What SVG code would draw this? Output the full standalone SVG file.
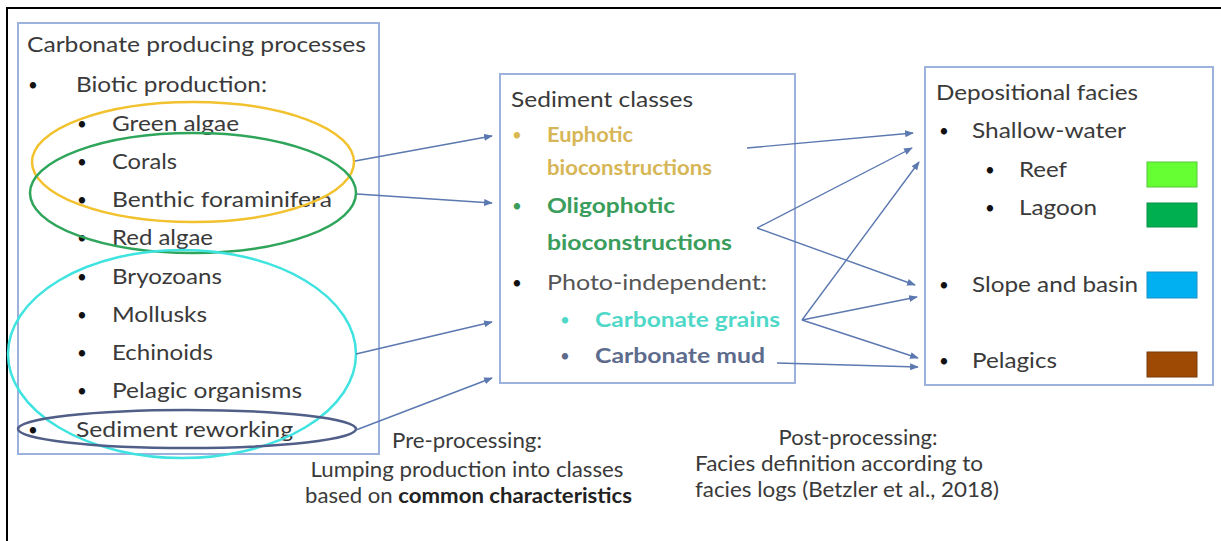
<svg xmlns="http://www.w3.org/2000/svg" width="1221" height="541" viewBox="0 0 1221 541">
<defs>
<marker id="ah" viewBox="0 0 10 8" refX="9" refY="4" markerWidth="9" markerHeight="7" markerUnits="userSpaceOnUse" orient="auto">
<path d="M0,0 L10,4 L0,8 Z" fill="#5B78B0"/>
</marker>
<style>
text{font-family:Lato,"Liberation Sans",sans-serif;font-size:21px;fill:#3A3A3A}
.b{font-weight:bold}
.u{font-size:17px;fill:#111111}
.box{fill:#ffffff;stroke:#9CB2DC;stroke-width:2}
.con{stroke:#5B78B0;stroke-width:1.4;fill:none}
.arr{marker-end:url(#ah)}
.ell{fill:none;stroke-width:2.5}
.sw{stroke-width:1}
</style>
</defs>
<rect x="0" y="0" width="1221" height="541" fill="#ffffff"/>
<path d="M7,541 L7,8 L1221,8" fill="none" stroke="#000" stroke-width="2"/>

<g id="node-processes">
<rect class="box" x="18" y="23" width="361" height="431"/>
<text x="27" y="52" textLength="339" lengthAdjust="spacingAndGlyphs">Carbonate producing processes</text>
<text class="u" x="28" y="91">•</text><text x="76" y="92" textLength="191" lengthAdjust="spacingAndGlyphs">Biotic production:</text>
<text class="u" x="77" y="130">•</text><text x="112" y="131" textLength="127" lengthAdjust="spacingAndGlyphs">Green algae</text>
<text class="u" x="77" y="168">•</text><text x="112" y="169" textLength="65" lengthAdjust="spacingAndGlyphs">Corals</text>
<text class="u" x="77" y="206">•</text><text x="112" y="207" textLength="220" lengthAdjust="spacingAndGlyphs">Benthic foraminifera</text>
<text class="u" x="77" y="244">•</text><text x="112" y="245" textLength="101" lengthAdjust="spacingAndGlyphs">Red algae</text>
<text class="u" x="77" y="283">•</text><text x="112" y="284" textLength="110" lengthAdjust="spacingAndGlyphs">Bryozoans</text>
<text class="u" x="77" y="321">•</text><text x="112" y="322" textLength="95" lengthAdjust="spacingAndGlyphs">Mollusks</text>
<text class="u" x="77" y="359">•</text><text x="112" y="360" textLength="101" lengthAdjust="spacingAndGlyphs">Echinoids</text>
<text class="u" x="77" y="397">•</text><text x="112" y="398" textLength="190" lengthAdjust="spacingAndGlyphs">Pelagic organisms</text>
<text class="u" x="28" y="436">•</text><text x="76" y="437" textLength="217" lengthAdjust="spacingAndGlyphs">Sediment reworking</text>
<ellipse class="ell" cx="193" cy="162" rx="161" ry="60" stroke="#F2C12E"/>
<ellipse class="ell" cx="193" cy="193" rx="163" ry="60" stroke="#2EA55A"/>
<ellipse class="ell" cx="182" cy="354" rx="174" ry="104" stroke="#3FE3E0"/>
<ellipse class="ell" cx="187" cy="429" rx="169" ry="19" stroke="#505E88"/>
</g>

<g id="node-classes">
<rect class="box" x="500" y="74" width="295" height="309"/>
<text x="511" y="107" textLength="182" lengthAdjust="spacingAndGlyphs">Sediment classes</text>
<text class="u" x="512" y="141" style="fill:#D9B84F">•</text>
<text class="b" x="547" y="142" textLength="86" lengthAdjust="spacingAndGlyphs" style="fill:#D6B656">Euphotic</text>
<text class="b" x="547" y="175" textLength="165" lengthAdjust="spacingAndGlyphs" style="fill:#D6B656">bioconstructions</text>
<text class="u" x="512" y="212" style="fill:#3A9D5C">•</text>
<text class="b" x="547" y="213" textLength="128" lengthAdjust="spacingAndGlyphs" style="fill:#3A9D5C">Oligophotic</text>
<text class="b" x="547" y="250" textLength="185" lengthAdjust="spacingAndGlyphs" style="fill:#3A9D5C">bioconstructions</text>
<text class="u" x="512" y="289">•</text>
<text x="547" y="290" textLength="220" lengthAdjust="spacingAndGlyphs" style="fill:#555555">Photo-independent:</text>
<text class="u" x="560" y="326" style="fill:#4FD8C8">•</text>
<text class="b" x="595" y="327" textLength="185" lengthAdjust="spacingAndGlyphs" style="fill:#4FD8C8">Carbonate grains</text>
<text class="u" x="560" y="362" style="fill:#5D6C8C">•</text>
<text class="b" x="595" y="363" textLength="170" lengthAdjust="spacingAndGlyphs" style="fill:#5D6C8C">Carbonate mud</text>
</g>

<g id="node-facies">
<rect class="box" x="925" y="67" width="288" height="318"/>
<text x="936" y="100" textLength="202" lengthAdjust="spacingAndGlyphs">Depositional facies</text>
<text class="u" x="939" y="137">•</text><text x="972" y="138" textLength="154" lengthAdjust="spacingAndGlyphs">Shallow-water</text>
<text class="u" x="985" y="176">•</text><text x="1019" y="177" textLength="48" lengthAdjust="spacingAndGlyphs">Reef</text>
<text class="u" x="985" y="214">•</text><text x="1019" y="215" textLength="78" lengthAdjust="spacingAndGlyphs">Lagoon</text>
<text class="u" x="939" y="291">•</text><text x="972" y="292" textLength="166" lengthAdjust="spacingAndGlyphs">Slope and basin</text>
<text class="u" x="939" y="367">•</text><text x="972" y="368" textLength="85" lengthAdjust="spacingAndGlyphs">Pelagics</text>
<rect class="sw" x="1147" y="162" width="50" height="25" fill="#66FF33" stroke="#55C838"/>
<rect class="sw" x="1147" y="203" width="50" height="24" fill="#00B050" stroke="#0A9048"/>
<rect class="sw" x="1147" y="272" width="50" height="26" fill="#00B0F0" stroke="#1C8FC8"/>
<rect class="sw" x="1147" y="352" width="50" height="25" fill="#9E4A05" stroke="#7A3A08"/>
</g>

<g id="connectors">
<line class="con arr" x1="355" y1="161" x2="492" y2="136"/>
<line class="con arr" x1="357" y1="194" x2="492" y2="203"/>
<line class="con arr" x1="356" y1="354" x2="492" y2="322"/>
<line class="con arr" x1="356" y1="430" x2="492" y2="378"/>
<line class="con arr" x1="747" y1="148" x2="913" y2="133"/>
<line class="con arr" x1="757" y1="228" x2="912" y2="148"/>
<line class="con arr" x1="757" y1="228" x2="915" y2="285"/>
<line class="con arr" x1="802" y1="320" x2="919" y2="162"/>
<line class="con arr" x1="802" y1="320" x2="917" y2="297"/>
<line class="con arr" x1="802" y1="320" x2="918" y2="358"/>
<line class="con arr" x1="777" y1="363" x2="918" y2="367"/>
</g>

<g id="label-pre">
<text x="467" y="448" text-anchor="middle" textLength="150" lengthAdjust="spacingAndGlyphs">Pre-processing:</text>
<text x="467" y="477" text-anchor="middle" textLength="313" lengthAdjust="spacingAndGlyphs">Lumping production into classes</text>
<text x="305" y="503" textLength="327" lengthAdjust="spacingAndGlyphs">based on <tspan class="b" fill="#222">common characteristics</tspan></text>
</g>
<g id="label-post">
<text x="858" y="445" text-anchor="middle" textLength="159" lengthAdjust="spacingAndGlyphs">Post-processing:</text>
<text x="695" y="471" textLength="288" lengthAdjust="spacingAndGlyphs">Facies definition according to</text>
<text x="695" y="497" textLength="304" lengthAdjust="spacingAndGlyphs">facies logs (Betzler et al., 2018)</text>
</g>
</svg>
